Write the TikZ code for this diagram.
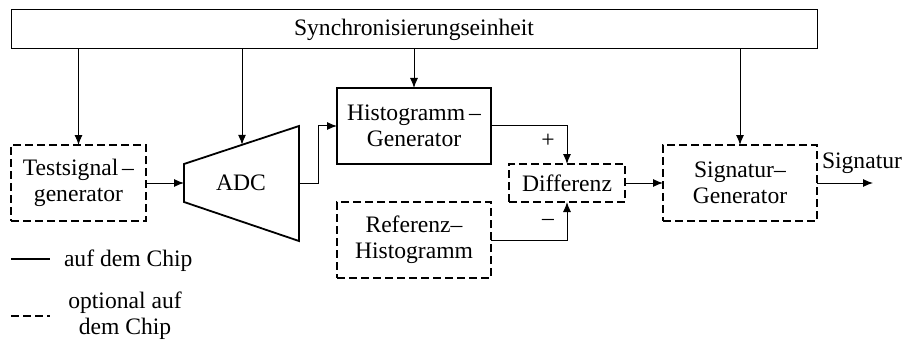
\documentclass[tikz,border=0pt]{standalone}
\usepackage{fontspec}
\setmainfont{Liberation Serif}
\usetikzlibrary{arrows.meta}
\begin{document}
\begin{tikzpicture}[x=0.5pt,y=-0.5pt,
  font=\fontsize{11.8}{13}\selectfont,
  every node/.style={inner sep=0pt, outer sep=0pt},
  dashln/.style={dash pattern=on 4pt off 2pt},
  solidbox/.style={draw, line width=0.9pt, align=center, minimum width=77pt, minimum height=38pt},
  dashbox/.style={draw, line width=0.9pt, dashln, align=center, minimum width=77pt, minimum height=38pt},
  conn/.style={line width=0.5pt},
  arr/.style={conn, -{Latex[length=5pt,width=4pt]}}
]
\useasboundingbox (0,0) rectangle (904,342);

% Synchronisation unit
\node[draw, line width=0.5pt, minimum width=403pt, minimum height=19.5pt] (sync) at (414,29.5) {};
\node (synctext) at (414,30) {Synchronisierungseinheit};

% blocks
\node[dashbox, minimum width=67.5pt] (test) at (78.5,183) {Testsignal\,--\\generator};
\coordinate (adctl) at (184,164);
\coordinate (adctr) at (299,126);
\coordinate (adcbr) at (299,241);
\coordinate (adcbl) at (184,202);
\draw[line width=0.9pt] (adctl) -- (adctr) -- (adcbr) -- (adcbl) -- cycle;
\node (adc) at (241,183) {ADC};
\coordinate (adcin) at (184,183);
\coordinate (adcout) at (299,183);
\coordinate (adctop) at (242,144.8);

\node[solidbox] (hist) at (414,126) {Histogramm\,--\\Generator};
\node[dashbox, minimum width=58pt, minimum height=19pt] (diff) at (567,183) {Differenz};
\node[dashbox] (ref) at (414,240) {Referenz--\\Histogramm};
\node[dashbox] (sig) at (740,183) {Signatur--\\Generator};
\coordinate (out) at (873,183);
\node[anchor=base west] (siglabel) at (822,169) {Signatur};

% connectors from sync
\draw[arr] (sync.south -| test.north) -- (test.north);
\draw[arr] (sync.south -| adctop) -- (adctop);
\draw[arr] (sync.south -| hist.north) -- (hist.north);
\draw[arr] (sync.south -| sig.north) -- (sig.north);

% signal path
\draw[arr] (test.east) -- (adcin);
\coordinate (bend) at (318,183);
\draw[arr] (adcout) -- (bend) -- (bend |- hist.west) -- (hist.west);
\draw[arr] (hist.east) -| (diff.north);
\draw[arr] (ref.east) -| (diff.south);
\draw[arr] (diff.east) -- (sig.west);
\draw[arr] (sig.east) -- (out);

\node (plus) at (548,141) {+};
\node (minus) at (548,222) {--};

% legend
\coordinate (l1a) at (11,259);
\coordinate (l1b) at (50,259);
\draw[line width=0.6pt] (l1a) -- (l1b);
\node[anchor=base west] (leg1) at (64,266) {auf dem Chip};
\coordinate (l2a) at (11,316);
\coordinate (l2b) at (50,316);
\draw[line width=0.9pt, dashln] (l2a) -- (l2b);
\node[align=center] (leg2) at (125,316) {optional auf\\dem Chip};
\end{tikzpicture}
\end{document}
